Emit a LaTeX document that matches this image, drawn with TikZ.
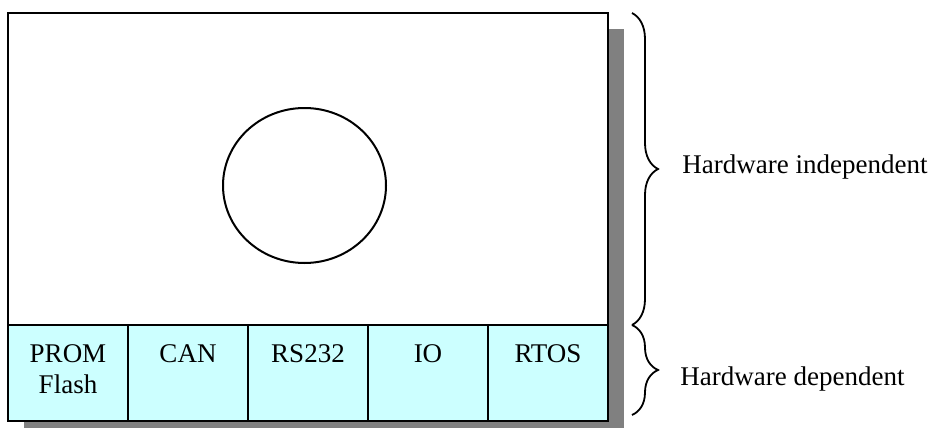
\documentclass[tikz,border=0pt]{standalone}
\usepackage{fontspec}
\setmainfont{Liberation Serif}
\usetikzlibrary{shapes.geometric,decorations.pathreplacing}

\begin{document}
\begin{tikzpicture}[
        x=0.5pt, y=-0.5pt,
        every node/.style={font=\fontsize{13.5}{15.5}\selectfont},
        panel/.style={draw, line width=1pt, fill=white},
        shadowbox/.style={fill=black!50},
        cell/.style={draw, line width=1pt, fill=cellcyan, minimum width=60pt,
            minimum height=48pt, inner sep=0pt, outer sep=0pt},
        celltext/.style={anchor=base, align=center, inner sep=0pt},
        core/.style={draw, ellipse, line width=1pt, minimum width=81.5pt,
            minimum height=77.5pt, inner sep=0pt},
        bracket/.style={decorate, decoration={brace, amplitude=13pt}, line width=0.9pt},
        sidelabel/.style={anchor=base west, inner sep=0pt}
    ]
    \definecolor{cellcyan}{HTML}{CCFFFF}
    \useasboundingbox (0,0) rectangle (928,428);

    % Shadow and outer box
    \fill[shadowbox] (24,29) rectangle (624,437);
    \draw[panel] (8,13) rectangle (608,421);

    % Application part
    \node[core] (app) at (304.5,185.5) {};

    % Hardware dependent cells
    \node[cell] (prom) at (68,373) {};
    \node[cell] (can) at (188,373) {};
    \node[cell] (rs) at (308,373) {};
    \node[cell] (io) at (428,373) {};
    \node[cell] (rtos) at (548,373) {};

    % base of a two line node is its last line
    \node[celltext] (promtext) at (68,393) {PROM\\Flash};
    \node[celltext] (cantext) at (188,362) {CAN};
    \node[celltext] (rstext) at (308,362) {RS232};
    \node[celltext] (iotext) at (428,362) {IO};
    \node[celltext] (rtostext) at (548,362) {RTOS};

    % Braces
    \coordinate (indtop) at (632,13);
    \coordinate (split) at (632,325);
    \coordinate (depbot) at (632,415);
    \draw[bracket] (indtop) -- (split);
    \draw[bracket] (split) -- (depbot);

    \node[sidelabel] (indlabel) at (682,173) {Hardware independent};
    \node[sidelabel] (deplabel) at (680,385) {Hardware dependent};

\end{tikzpicture}
\end{document}
